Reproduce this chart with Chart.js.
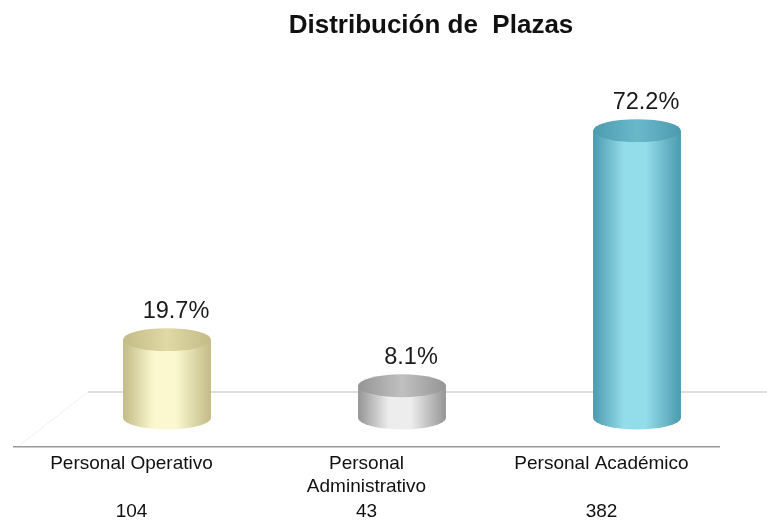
<!DOCTYPE html>
<html>
<head>
<meta charset="utf-8">
<script src="https://cdn.jsdelivr.net/npm/chart.js@4.4.1/dist/chart.umd.min.js"></script>
<style>
  html, body { margin: 0; padding: 0; background: #fff; }
  #wrap { width: 767px; height: 520px; }
</style>
</head>
<body>
<div id="wrap"><canvas id="chart" width="767" height="520"></canvas></div>
<script>
// data
const chartTitle = 'Distribución de  Plazas';
const categories = ['Personal Operativo', ['Personal', 'Administrativo'], 'Personal Académico'];
const percents = [19.7, 8.1, 72.2];
const counts = [104, 43, 382];

// colors for each cylinder: [edge, middle, top]
const cylColors = [
    ['#c2bb86', '#fbf8d0', '#e0d9a6'],
    ['#959595', '#ededed', '#c0c0c0'],
    ['#4b9aae', '#93dcea', '#6ab9cb']
];

const FONT = '"Liberation Sans", Arial, sans-serif';
const DX = 35.5, DY = -29; // 3D depth offset of the cylinders

const cylinderPlugin = {
    id: 'cylinders',
    beforeDatasetsDraw(chart) {
        const ctx = chart.ctx;
        const area = chart.chartArea;
        ctx.save();
        // back floor line
        ctx.strokeStyle = '#d4d4d4';
        ctx.lineWidth = 1.5;
        ctx.beginPath();
        ctx.moveTo(area.left + 74, area.bottom - 55);
        ctx.lineTo(chart.width, area.bottom - 55);
        ctx.stroke();
        ctx.strokeStyle = '#f0f0f0';
        ctx.lineWidth = 1;
        ctx.beginPath();
        ctx.moveTo(area.left + 6, area.bottom - 2);
        ctx.lineTo(area.left + 74, area.bottom - 55);
        ctx.stroke();
        ctx.restore();
    },
    afterDatasetsDraw(chart) {
        const ctx = chart.ctx;
        const meta = chart.getDatasetMeta(0);
        meta.data.forEach((bar, i) => {
            const p = bar.getProps(['x', 'y', 'base', 'width'], true);
            const cx = p.x + DX;
            const w = p.width;
            const rx = w / 2;
            const ry = w * 0.13;
            const top = p.y + DY;
            const bottom = p.base + DY;
            const [edge, mid, topc] = cylColors[i];

            const g = ctx.createLinearGradient(cx - rx, 0, cx + rx, 0);
            g.addColorStop(0, edge);
            g.addColorStop(0.35, mid);
            g.addColorStop(0.6, mid);
            g.addColorStop(1, edge);

            ctx.save();
            // body + lower half of the bottom ellipse
            ctx.beginPath();
            ctx.moveTo(cx - rx, top);
            ctx.lineTo(cx - rx, bottom);
            ctx.ellipse(cx, bottom, rx, ry, 0, Math.PI, 0, true);
            ctx.lineTo(cx + rx, top);
            ctx.closePath();
            ctx.fillStyle = g;
            ctx.fill();

            // top ellipse
            const gt = ctx.createLinearGradient(cx - rx, 0, cx + rx, 0);
            gt.addColorStop(0, edge);
            gt.addColorStop(0.5, topc);
            gt.addColorStop(1, edge);
            ctx.beginPath();
            ctx.ellipse(cx, top, rx, ry, 0, 0, Math.PI * 2);
            ctx.fillStyle = gt;
            ctx.fill();

            // percent label
            ctx.fillStyle = '#1a1a1a';
            ctx.font = '23.5px ' + FONT;
            ctx.textAlign = 'center';
            ctx.textBaseline = 'alphabetic';
            ctx.fillText(percents[i].toFixed(1) + '%', cx + 9, top - ry - 10);
            ctx.restore();
        });
    },
    afterDraw(chart) {
        const ctx = chart.ctx;
        const area = chart.chartArea;
        const xs = chart.scales.x;
        ctx.save();
        // counts under the category names
        ctx.fillStyle = '#111';
        ctx.font = '19px ' + FONT;
        ctx.textAlign = 'center';
        ctx.textBaseline = 'middle';
        counts.forEach((c, i) => {
            ctx.fillText(String(c), xs.getPixelForValue(i), area.bottom + 65);
        });
        // title
        ctx.font = 'bold 26px ' + FONT;
        ctx.textBaseline = 'alphabetic';
        ctx.fillText(chartTitle, 431, 33);
        ctx.restore();
    }
};

new Chart(document.getElementById('chart').getContext('2d'), {
    type: 'bar',
    data: {
        labels: categories,
        datasets: [{
            data: percents,
            backgroundColor: 'rgba(0,0,0,0)',
            borderWidth: 0,
            barPercentage: 0.374,
            categoryPercentage: 1
        }]
    },
    options: {
        responsive: false,
        animation: false,
        events: [],
        layout: { padding: { left: 14, right: 48, top: 49, bottom: 17 } },
        plugins: {
            legend: { display: false },
            tooltip: { enabled: false },
            title: { display: false }
        },
        scales: {
            x: {
                grid: { display: false, drawTicks: false },
                border: { display: true, color: '#9a9a9a', width: 1.5 },
                ticks: {
                    color: '#111',
                    padding: 5,
                    maxRotation: 0,
                    autoSkip: false,
                    font: { family: FONT, size: 19, lineHeight: '23px' }
                }
            },
            y: {
                display: false,
                min: 0,
                max: 100
            }
        }
    },
    plugins: [cylinderPlugin]
});
</script>
</body>
</html>
